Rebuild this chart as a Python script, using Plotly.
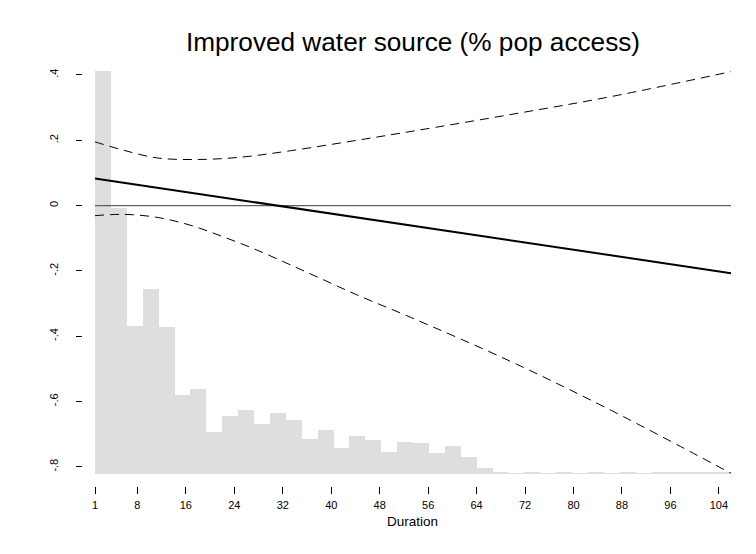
import plotly.graph_objects as go

# ---------------- data ----------------
title_text = "Improved water source (% pop access)"
x_label = "Duration"

x_tick_vals = [1, 8, 16, 24, 32, 40, 48, 56, 64, 72, 80, 88, 96, 104]
x_tick_text = ["1", "8", "16", "24", "32", "40", "48", "56", "64", "72", "80", "88", "96", "104"]
y_tick_vals = [0.4, 0.2, 0.0, -0.2, -0.4, -0.6, -0.8]
y_tick_text = [".4", ".2", "0", "-.2", "-.4", "-.6", "-.8"]

# histogram of duration (40 bins from 1 to 106), bar tops in y-axis units
hist_start = 1.0
hist_end = 106.0
hist_top = [0.412, -0.009, -0.368, -0.257, -0.373, -0.580, -0.562, -0.693, -0.645, -0.626,
            -0.670, -0.636, -0.657, -0.716, -0.686, -0.741, -0.706, -0.718, -0.755, -0.724,
            -0.728, -0.759, -0.737, -0.771, -0.803, -0.816, -0.819, -0.818, -0.819, -0.818,
            -0.819, -0.818, -0.819, -0.818, -0.819, -0.816, -0.816, -0.817, -0.817, -0.817]
hist_base = -0.822

# marginal effect (solid) and confidence bounds (dashed)
me_x = [1, 106]
me_y = [0.083, -0.207]

up_x = [1, 5.6, 11.2, 17.8, 25, 33.3, 44.3, 53.5, 69.7, 86.3, 106]
ci_upper = [0.195, 0.170, 0.146, 0.141, 0.148, 0.168, 0.200, 0.228, 0.279, 0.334, 0.410]
lo_x = [1, 5.7, 11.2, 16.7, 22.2, 27.7, 33.3, 38.8, 44.3, 53.2, 69.7, 86.3, 106]
ci_lower = [-0.031, -0.027, -0.036, -0.060, -0.096, -0.136, -0.182, -0.228, -0.274, -0.343,
            -0.478, -0.628, -0.820]

zero_x = [1, 106]
zero_y = [0, 0]

# ---------------- figure ----------------
n_bins = len(hist_top)
bw = (hist_end - hist_start) / n_bins
centers = [hist_start + bw * (i + 0.5) for i in range(n_bins)]
heights = [t - hist_base for t in hist_top]

fig = go.Figure()
fig.add_trace(go.Bar(x=centers, y=heights, base=hist_base, width=bw,
                     marker=dict(color="#DEDEDE", line=dict(width=0)),
                     showlegend=False, hoverinfo="skip"))
fig.add_trace(go.Scatter(x=zero_x, y=zero_y, mode="lines",
                         line=dict(color="#606060", width=1.2), showlegend=False))
fig.add_trace(go.Scatter(x=up_x, y=ci_upper, mode="lines", line_shape="spline",
                         line=dict(color="black", width=1, dash="9px,6px"), showlegend=False))
fig.add_trace(go.Scatter(x=lo_x, y=ci_lower, mode="lines", line_shape="spline",
                         line=dict(color="black", width=1, dash="9px,6px"), showlegend=False))
fig.add_trace(go.Scatter(x=me_x, y=me_y, mode="lines",
                         line=dict(color="black", width=2), showlegend=False))

# page body has an 8px margin, so the figure is 8px smaller and shifted
W, H = 748, 546
ml, mr, mt, mb = 74, 25, 63, 68
pw = W - ml - mr
ph = H - mt - mb
xdom0 = 12 / pw
ydom0 = 12 / ph

fig.update_layout(
    width=W, height=H,
    margin=dict(l=ml, r=mr, t=mt, b=mb, pad=0),
    paper_bgcolor="white", plot_bgcolor="white",
    bargap=0,
    font=dict(family="Liberation Sans, Arial, sans-serif", color="black"),
    title=dict(text=title_text, x=405 / W, xref="container", xanchor="center",
               y=1 - 34 / H, yref="container", yanchor="middle",
               font=dict(size=26.2, color="black")),
    xaxis=dict(domain=[xdom0, 1], range=[0.83, 106.0], anchor="free", position=0,
               showgrid=False, zeroline=False, showline=False,
               tickmode="array", tickvals=x_tick_vals, ticktext=x_tick_text,
               ticks="outside", ticklen=7, tickwidth=1, tickcolor="black",
               tickfont=dict(size=11), ticklabelstandoff=2,
               title=dict(text=x_label, font=dict(size=13.5), standoff=6)),
    yaxis=dict(domain=[ydom0, 1], range=[hist_base, 0.412], anchor="free", position=0,
               showgrid=False, zeroline=False, showline=False,
               tickmode="array", tickvals=y_tick_vals, ticktext=y_tick_text,
               ticks="outside", ticklen=6, tickwidth=1, tickcolor="black",
               tickangle=-90, tickfont=dict(size=11), ticklabelstandoff=14),
)

fig.write_html("out.html")
